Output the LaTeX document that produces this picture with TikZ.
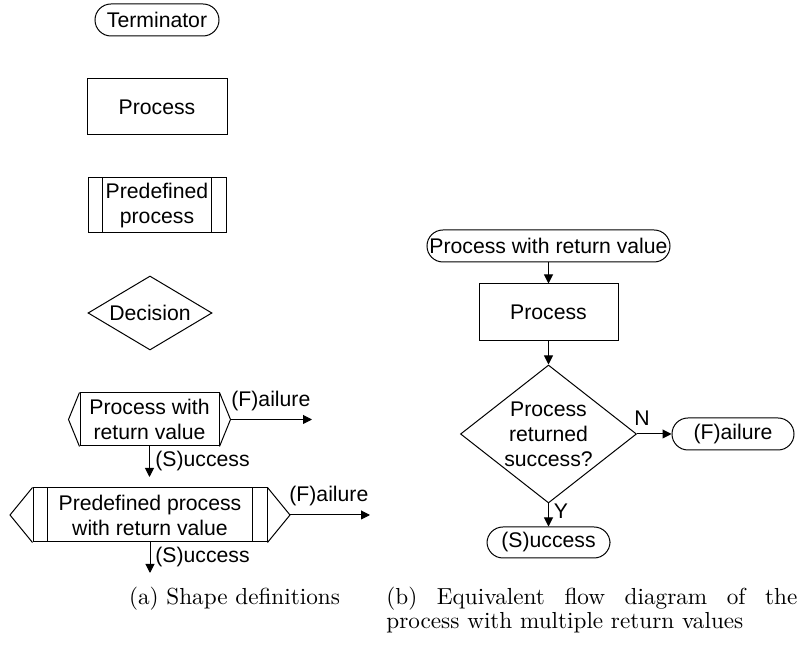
\documentclass[tikz,border=0pt]{standalone}
\usepackage{fontspec}
\newfontfamily\diagfont{Liberation Sans}
\newfontfamily\capfont{lmroman10-regular}[Extension=.otf]
\usetikzlibrary{arrows.meta,shapes.geometric,calc}

\begin{document}
\begin{tikzpicture}[x=0.5pt,y=-0.5pt,
  every node/.style={font=\diagfont\fontsize{10.6}{12.5}\selectfont, inner sep=0pt},
  base/.style={draw, line width=0.5pt, align=center},
  term/.style={base, rectangle, rounded corners=8pt},
  proc/.style={base, rectangle},
  dec/.style={base, diamond},
  edge/.style={line width=0.5pt},
  flow/.style={edge, -{Triangle[length=4.5pt,width=4.5pt]}},
  caption/.style={font=\capfont\fontsize{11.6}{12}\selectfont}
]
\useasboundingbox (0,0) rectangle (800,646);

% ---------- (a) shape definitions ----------
\node[term, minimum width=62pt, minimum height=16pt] (term) at (157,20) {Terminator};
\node[proc, minimum width=70pt, minimum height=28pt] (proc) at (157,107) {Process};

\node[proc, minimum width=69pt, minimum height=27.5pt] (pre) at (157,205.5) {Predefined\\process};
\draw[edge] ($(pre.north west)+(15,0)$) -- ($(pre.south west)+(15,0)$)
            ($(pre.north east)+(-15,0)$) -- ($(pre.south east)+(-15,0)$);

\node[dec, minimum width=62pt, minimum height=37pt, aspect=1.676] (dec) at (150,313) {Decision};

% process with return value
\node[proc, minimum width=69.5pt, minimum height=26.5pt] (prv) at (149.5,419.5) {Process with\\return value};
\coordinate (prvL) at ($(prv.west)+(-11,0)$);
\coordinate (prvR) at ($(prv.east)+(11,0)$);
\draw[edge] (prv.north west) -- (prvL) -- (prv.south west)
            (prv.north east) -- (prvR) -- (prv.south east);
\coordinate (prvF) at (312,419.5);
\coordinate (prvS) at (149.5,477);
\draw[flow] (prvR) -- (prvF);
\draw[flow] (prv.south) -- (prvS);
\node[anchor=base west] (prvFl) at (231,407) {(F)ailure};
\node[anchor=base west] (prvSl) at (155,467) {(S)uccess};

% predefined process with return value
\node[proc, minimum width=117pt, minimum height=27pt] (ppr) at (150,515) {Predefined process\\with return value};
\draw[edge] ($(ppr.north west)+(15,0)$) -- ($(ppr.south west)+(15,0)$)
            ($(ppr.north east)+(-15,0)$) -- ($(ppr.south east)+(-15,0)$);
\coordinate (pprL) at ($(ppr.west)+(-22.5,0)$);
\coordinate (pprR) at ($(ppr.east)+(22.5,0)$);
\draw[edge] (ppr.north west) -- (pprL) -- (ppr.south west)
            (ppr.north east) -- (pprR) -- (ppr.south east);
\coordinate (pprF) at (370,515);
\coordinate (pprS) at (150,573);
\draw[flow] (pprR) -- (pprF);
\draw[flow] (ppr.south) -- (pprS);
\node[anchor=base west] (pprFl) at (289,502) {(F)ailure};
\node[anchor=base west] (pprSl) at (155,563) {(S)uccess};

% ---------- (b) flow diagram ----------
\node[term, minimum width=121.5pt, minimum height=16pt] (start) at (548.5,246) {Process with return value};
\node[proc, minimum width=69.5pt, minimum height=28.5pt] (proc2) at (548.5,312.5) {Process};
\node[dec, minimum width=88pt, minimum height=69pt, aspect=1.275] (check) at (548.5,434) {Process\\returned\\success?};
\node[term, minimum width=61.5pt, minimum height=15.5pt] (succ) at (548.5,542.5) {(S)uccess};
\node[term, minimum width=61pt, minimum height=16pt] (fail) at (733,434) {(F)ailure};

\draw[flow] (start) -- (proc2);
\draw[flow] (proc2) -- (check);
\draw[flow] (check.south) -- (succ);
\draw[flow] (check.east) -- (fail);
\node (ylab) at (561,511) {Y};
\node (nlab) at (642,418) {N};

% ---------- captions ----------
\node[caption, anchor=base] (capa) at (234.5,605) {(a) Shape definitions};
\node[caption, anchor=base west, text width=205.5pt, align=justify] (capb) at (386,605)
  {(b) Equivalent flow diagram of the\linebreak process with multiple return values};
\end{tikzpicture}
\end{document}
